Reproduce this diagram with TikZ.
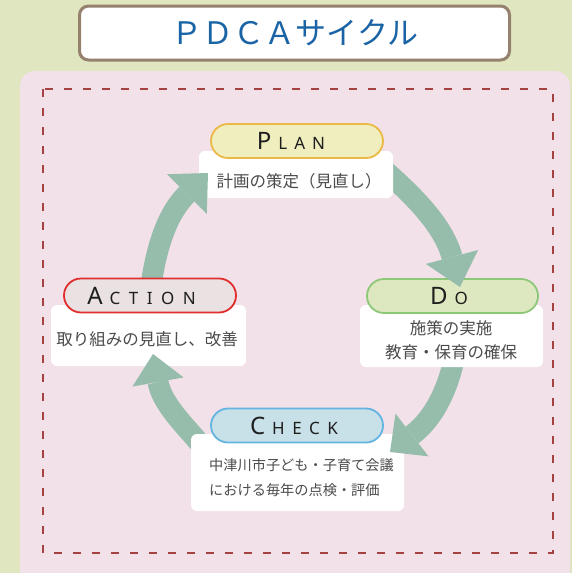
\documentclass[tikz,border=0pt]{standalone}
\usepackage{fontspec}
\usetikzlibrary{calc,shapes.misc}
\newfontfamily\jpfont{Noto Sans CJK JP}
\newfontfamily\latfont{Noto Sans}
\definecolor{bggreen}{RGB}{224,230,192}
\definecolor{panelpink}{RGB}{242,225,233}
\definecolor{dashred}{RGB}{165,65,65}
\definecolor{titlebrown}{RGB}{150,128,110}
\definecolor{titleblue}{RGB}{26,100,165}
\definecolor{arrowc}{RGB}{150,189,172}
\definecolor{txtgray}{RGB}{75,75,75}
\definecolor{pillink}{RGB}{30,30,30}
\definecolor{planfill}{RGB}{240,238,190}
\definecolor{planline}{RGB}{235,185,70}
\definecolor{dofill}{RGB}{222,232,192}
\definecolor{doline}{RGB}{140,200,120}
\definecolor{actfill}{RGB}{234,226,226}
\definecolor{actline}{RGB}{225,45,45}
\definecolor{chkfill}{RGB}{200,224,232}
\definecolor{chkline}{RGB}{100,180,225}
\newcommand\Bg[1]{{\fontsize{24}{24}\selectfont #1}}
\newcommand\Sm{\fontsize{17}{17}\selectfont}
\begin{document}
\begin{tikzpicture}[x=1pt,y=-1pt,
  pill/.style={rounded rectangle, line width=1.8pt, minimum height=34pt, inner sep=0pt},
  wbox/.style={fill=white, rounded corners=6pt},
  pilltext/.style={text=pillink, inner sep=0pt, font=\latfont},
  boxtext/.style={text=txtgray, inner sep=0pt, font=\jpfont\fontsize{16.5}{24}\selectfont},
  shaft/.style={draw=arrowc, line width=21pt},
  headc/.style={fill=arrowc}]
\useasboundingbox (0,0) rectangle (572,573);
\fill[bggreen] (0,0) rectangle (572,573);
\fill[panelpink, rounded corners=15pt] (20,71) rectangle (570,590);
\draw[dashred, line width=1.5pt, dash pattern=on 8pt off 11pt] (43,89) rectangle (553,553);
% title
\node[draw=titlebrown, line width=3pt, fill=white, rounded corners=9pt,
      minimum width=430pt, minimum height=54pt] (title) at (294.5,33) {};
\node[text=titleblue, inner sep=0pt, font=\jpfont\fontsize{31}{31}\selectfont] (titletext) at (295,33) {ＰＤＣＡサイクル};
% arrow coordinates
\coordinate (S1) at (382,168); \coordinate (B1) at (452,257); \coordinate (T1) at (460,287);
\coordinate (S2) at (455,355); \coordinate (B2) at (412,435); \coordinate (T2) at (390,452);
\coordinate (S3) at (205,450); \coordinate (B3) at (158,382); \coordinate (T3) at (153,354);
\coordinate (S4) at (150,292); \coordinate (B4) at (187,194); \coordinate (T4) at (208,173);
% shafts (behind boxes)
\draw[shaft] (S1) .. controls (408,191) and (443,223) .. (B1);
\draw[shaft] (S2) .. controls (449,385) and (436,417) .. (B2);
\draw[shaft] (S3) .. controls (190,430) and (162.5,406.5) .. (B3);
\draw[shaft] (S4) .. controls (155,255) and (164,217) .. (B4);
% white boxes
\node[wbox, minimum width=194pt, minimum height=47pt] (planbox) at (296,174.5) {};
\node[wbox, minimum width=183pt, minimum height=62pt] (dobox) at (451.5,336) {};
\node[wbox, minimum width=195pt, minimum height=61pt] (actbox) at (148.5,335.5) {};
\node[wbox, minimum width=213pt, minimum height=77pt] (chkbox) at (297.5,472.5) {};
% pills
\node[pill, draw=planline, fill=planfill, minimum width=172pt] (plan) at (297,141) {};
\node[pill, draw=doline, fill=dofill, minimum width=171pt] (do) at (452.5,296) {};
\node[pill, draw=actline, fill=actfill, minimum width=172pt] (act) at (150,295.5) {};
\node[pill, draw=chkline, fill=chkfill, minimum width=172pt] (chk) at (297,425.5) {};
% pill labels
\node[pilltext] (plant) at (291,141) {\Bg{P}\hspace{7pt}\Sm L\hspace{7pt}A\hspace{7pt}N};
\node[pilltext] (dot) at (449,296) {\Bg{D}\hspace{7pt}\Sm O};
\node[pilltext] (actt) at (141.5,296) {\Bg{A}\hspace{7pt}\Sm C\hspace{8.5pt}T\hspace{8.5pt}I\hspace{8.5pt}O\hspace{8.5pt}N};
\node[pilltext] (chkt) at (294,426) {\Bg{C}\hspace{7pt}\Sm H\hspace{7.5pt}E\hspace{7.5pt}C\hspace{7.5pt}K};
% box texts
\node[boxtext] (plantxt) at (299,181) {計画の策定（見直し）};
\node[boxtext, align=center] (dotxt) at (451,340) {施策の実施\\教育・保育の確保};
\node[boxtext] (acttxt) at (147,339) {取り組みの見直し、改善};
\node[boxtext, anchor=west, align=left, font=\jpfont\fontsize{14.2}{25}\selectfont] (chktxt) at (209,477.5) {中津川市子ども・子育て会議\\における毎年の点検・評価};
% heads (on top)
\fill[headc] ($(B1)!27pt!90:(T1)$) -- (T1) -- ($(B1)!27pt!-90:(T1)$) -- cycle;
\fill[headc] ($(B2)!27pt!90:(T2)$) -- (T2) -- ($(B2)!27pt!-90:(T2)$) -- cycle;
\fill[headc] ($(B3)!26pt!90:(T3)$) -- (T3) -- ($(B3)!26pt!-90:(T3)$) -- cycle;
\fill[headc] ($(B4)!28pt!90:(T4)$) -- (T4) -- ($(B4)!28pt!-90:(T4)$) -- cycle;
\end{tikzpicture}
\end{document}
